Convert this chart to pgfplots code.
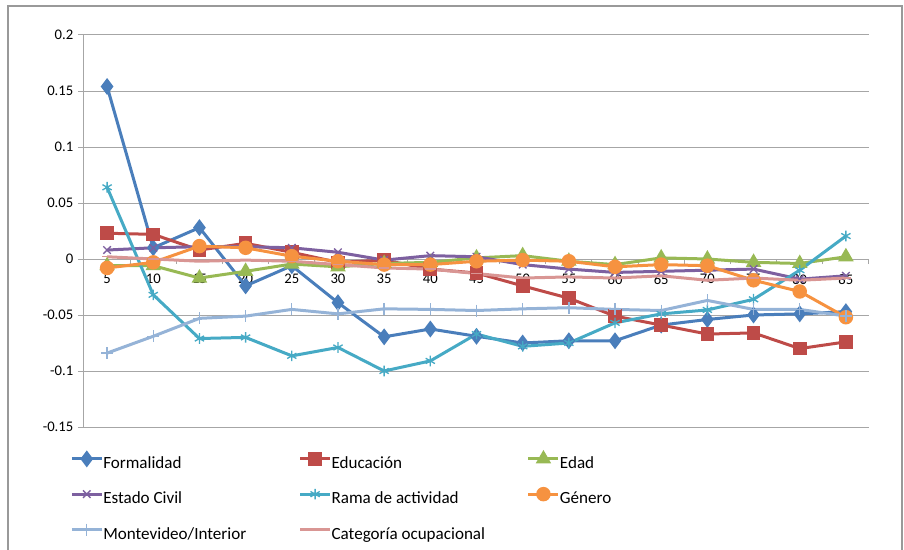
\documentclass[border=0pt]{standalone}
\usepackage{fontspec}
\setmainfont{Carlito}
\usepackage{pgfplots}
\usepackage{pgfplotstable}
\pgfplotsset{compat=1.18}

\definecolor{cForm}{HTML}{4A7EBB}
\definecolor{cEduc}{HTML}{BE4B48}
\definecolor{cEdad}{HTML}{98B954}
\definecolor{cCivil}{HTML}{7D60A0}
\definecolor{cRama}{HTML}{46AAC5}
\definecolor{cGen}{HTML}{F69240}
\definecolor{cMvd}{HTML}{95B3D7}
\definecolor{cCat}{HTML}{D99694}
\definecolor{gridgray}{HTML}{A6A6A6}

\pgfplotstableread{
age form educ edad civil rama genero mvd cat
5 0.154 0.023 -0.006 0.008 0.064 -0.008 -0.084 0.002
10 0.010 0.022 -0.006 0.010 -0.032 -0.003 -0.069 0.000
15 0.028 0.008 -0.017 0.011 -0.071 0.0115 -0.053 -0.002
20 -0.024 0.014 -0.011 0.011 -0.070 0.010 -0.051 -0.001
25 -0.006 0.006 -0.0045 0.010 -0.0865 0.0025 -0.045 -0.002
30 -0.039 -0.003 -0.007 0.006 -0.079 -0.002 -0.049 -0.005
35 -0.0695 -0.001 -0.004 -0.001 -0.100 -0.005 -0.0445 -0.008
40 -0.0625 -0.009 -0.003 0.003 -0.091 -0.005 -0.045 -0.009
45 -0.069 -0.0125 0.001 0.002 -0.067 -0.002 -0.046 -0.013
50 -0.075 -0.024 0.003 -0.005 -0.078 -0.001 -0.0445 -0.017
55 -0.073 -0.035 -0.002 -0.009 -0.075 -0.002 -0.0435 -0.016
60 -0.073 -0.051 -0.005 -0.012 -0.057 -0.007 -0.045 -0.017
65 -0.059 -0.059 0.001 -0.011 -0.049 -0.005 -0.046 -0.015
70 -0.054 -0.067 0.000 -0.010 -0.0455 -0.006 -0.037 -0.019
75 -0.050 -0.066 -0.003 -0.009 -0.036 -0.019 -0.045 -0.017
80 -0.049 -0.080 -0.004 -0.018 -0.010 -0.029 -0.045 -0.019
85 -0.047 -0.074 0.002 -0.015 0.0205 -0.052 -0.051 -0.017
}\datatable

\newcommand{\legtext}[1]{\makebox[146.5pt][l]{#1}}

\begin{document}
\begin{tikzpicture}
\begin{axis}[
  scale only axis,
  width=588.75pt, height=294pt,
  xmin=2.5, xmax=87.5,
  ymin=-0.15, ymax=0.2,
  axis x line*=middle, axis y line*=left,
  x axis line style={-, gridgray, line width=0.75pt},
  y axis line style={-, gridgray, line width=0.75pt},
  xtick={5,10,...,85},
  xticklabels={5,10,15,20,25,30,35,40,45,50,55,60,65,70,75,80,85},
  minor xtick={2.5,7.5,...,87.5},
  major x tick style={draw=none},
  minor x tick style={gridgray, line width=0.75pt},
  minor tick length=3.75pt,
  ytick={-0.15,-0.1,-0.05,0,0.05,0.1,0.15,0.2},
  yticklabels={-0.15,-0.1,-0.05,0,0.05,0.1,0.15,0.2},
  ytick style={gridgray, line width=0.75pt},
  major tick length=4.5pt,
  tick align=outside,
  ytick pos=left,
  ymajorgrids,
  grid style={gridgray, line width=0.75pt},
  tick label style={font=\fontsize{11}{13}\selectfont, black},
  xticklabel style={yshift=-3.5pt},
  clip=false,
  every axis plot/.append style={line width=2.25pt, mark options={solid}},
  legend columns=3,
  legend cell align=left,
  legend style={
    at={(-0.0178,-0.0655)}, anchor=north west,
    draw=none, fill=none, inner sep=0pt,
    font=\fontsize{12.8}{15}\selectfont,
    nodes={inner sep=0pt, text height=9.5pt, text depth=3pt},
    column sep=0pt, row sep=11.75pt,
  },
  legend image code/.code={
    \draw[mark repeat=2, mark phase=2, #1]
      plot coordinates {(0pt,4.1pt) (11.25pt,4.1pt) (22.5pt,4.1pt)};
  },
]
\addplot[cForm, mark=diamond*, mark size=4.5pt] table[x=age, y=form] {\datatable};
\addlegendentry{\legtext{Formalidad}}
\addplot[cEduc, mark=square*, mark size=4pt] table[x=age, y=educ] {\datatable};
\addlegendentry{\legtext{Educación}}
\addplot[cEdad, mark=triangle*, mark size=4.5pt] table[x=age, y=edad] {\datatable};
\addlegendentry{\legtext{Edad}}
\addplot[cCivil, mark=x, mark size=4pt, mark options={line width=1pt}] table[x=age, y=civil] {\datatable};
\addlegendentry{\legtext{Estado Civil}}
\addplot[cRama, mark=asterisk, mark size=4pt, mark options={line width=1pt}] table[x=age, y=rama] {\datatable};
\addlegendentry{\legtext{Rama de actividad}}
\addplot[cGen, mark=*, mark size=4.3pt] table[x=age, y=genero] {\datatable};
\addlegendentry{\legtext{Género}}
\addplot[cMvd, mark=+, mark size=4.5pt, mark options={line width=1pt}] table[x=age, y=mvd] {\datatable};
\addlegendentry{\legtext{Montevideo/Interior}}
\addplot[cCat, mark=-, mark size=4pt, mark options={line width=1pt}] table[x=age, y=cat] {\datatable};
\addlegendentry{\legtext{Categoría ocupacional}}
\end{axis}
\draw[gray!80, line width=1pt] (-57pt,-92.25pt) -- (-57pt,315.75pt) -- (613.5pt,315.75pt) -- (613.5pt,-92.25pt);
\pgfresetboundingbox
\path[use as bounding box] (-63pt,-92.25pt) rectangle (615pt,320.25pt);
\end{tikzpicture}
\end{document}
